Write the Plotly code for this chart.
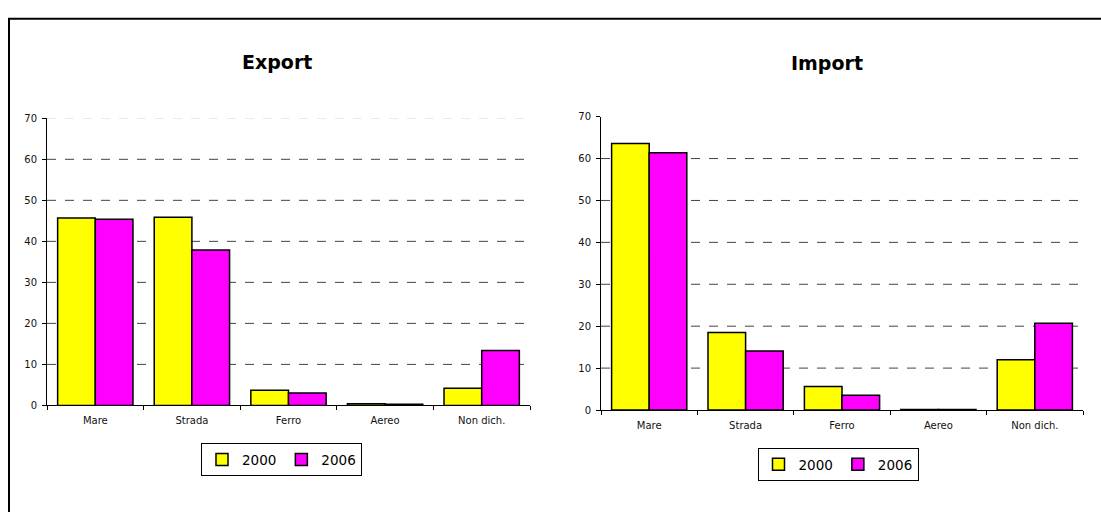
import plotly.graph_objects as go

# Transport modes and shares (%) by year
categories = ["Mare", "Strada", "Ferro", "Aereo", "Non dich."]
years = ["2000", "2006"]

export_2000 = [45.7, 45.9, 3.7, 0.4, 4.2]
export_2006 = [45.4, 37.9, 3.0, 0.3, 13.4]
import_2000 = [63.6, 18.5, 5.6, 0.1, 12.0]
import_2006 = [61.4, 14.1, 3.5, 0.1, 20.7]

y_ticks = [0, 10, 20, 30, 40, 50, 60, 70]
grid_values = [10, 20, 30, 40, 50, 60]

colors = {"2000": "#FFFF00", "2006": "#FF00FF"}
FONT = "DejaVu Sans, Verdana, sans-serif"
W, H = 1101, 512

fig = go.Figure()

panels = [
    ("x", "y", "legend", export_2000, export_2006),
    ("x2", "y2", "legend2", import_2000, import_2006),
]
for xa, ya, lg, v2000, v2006 in panels:
    for yr, vals in zip(years, [v2000, v2006]):
        fig.add_trace(go.Bar(
            x=categories, y=vals, name=yr, xaxis=xa, yaxis=ya, legend=lg,
            marker=dict(color=colors[yr], line=dict(color="black", width=1.5)),
        ))

axis_common = dict(
    showline=True, linecolor="black", linewidth=1,
    ticks="outside", ticklen=4, tickcolor="black",
    tickfont=dict(family=FONT, size=10, color="#111111"),
    showgrid=False, zeroline=False,
)

legend_common = dict(
    orientation="h", xanchor="center", yanchor="middle",
    bordercolor="black", borderwidth=1, bgcolor="white",
    font=dict(family=FONT, size=13.5, color="black"), itemwidth=30,
    tracegroupgap=0,
)

fig.update_layout(
    width=W, height=H,
    margin=dict(l=0, r=0, t=0, b=0),
    paper_bgcolor="white", plot_bgcolor="white",
    barmode="group", bargap=0.22, bargroupgap=0,
    font=dict(family=FONT, color="black"),
    xaxis=dict(domain=[47 / W, 530 / W], anchor="y", tickson="boundaries",
               ticklabelstandoff=6, **axis_common),
    yaxis=dict(domain=[1 - 409 / H, 1 - 115 / H], anchor="x", range=[0, 70],
               tickvals=y_ticks, ticklabelstandoff=3, **axis_common),
    xaxis2=dict(domain=[601 / W, 1083 / W], anchor="y2", tickson="boundaries",
                ticklabelstandoff=6, **axis_common),
    yaxis2=dict(domain=[1 - 413.7 / H, 1 - 113.3 / H], anchor="x2", range=[0, 70],
                tickvals=y_ticks, ticklabelstandoff=3, **axis_common),
    legend=dict(x=281.5 / W, y=1 - 464.5 / H, **legend_common),
    legend2=dict(x=838 / W, y=1 - 469.5 / H, **legend_common),
    showlegend=True,
)

# Dashed horizontal gridlines behind the bars
shapes = []
for xr, yr in [("x domain", "y"), ("x2 domain", "y2")]:
    for v in grid_values:
        shapes.append(dict(
            type="line", xref=xr, yref=yr, x0=0, x1=1, y0=v, y1=v,
            line=dict(color="#444444", width=1, dash="dash"), layer="below",
        ))
shapes.append(dict(
    type="line", xref="x domain", yref="y", x0=0, x1=1, y0=70, y1=70,
    line=dict(color="#DDDDDD", width=1, dash="dash"), layer="below",
))
# Outer frame of the chart area
shapes.append(dict(
    type="rect", xref="paper", yref="paper",
    x0=9 / W, x1=1.05, y0=-0.05, y1=1 - 13 / H,
    line=dict(color="black", width=2), fillcolor="rgba(0,0,0,0)", layer="above",
))
fig.update_layout(shapes=shapes)

# Panel titles
for text, xc, yc in [("Export", 277, 57), ("Import", 827, 58)]:
    fig.add_annotation(
        text=f"<b>{text}</b>", xref="paper", yref="paper",
        x=xc / W, y=1 - yc / H, xanchor="center", yanchor="middle",
        showarrow=False, font=dict(family=FONT, size=19, color="black"),
    )

fig.write_html("out.html")
